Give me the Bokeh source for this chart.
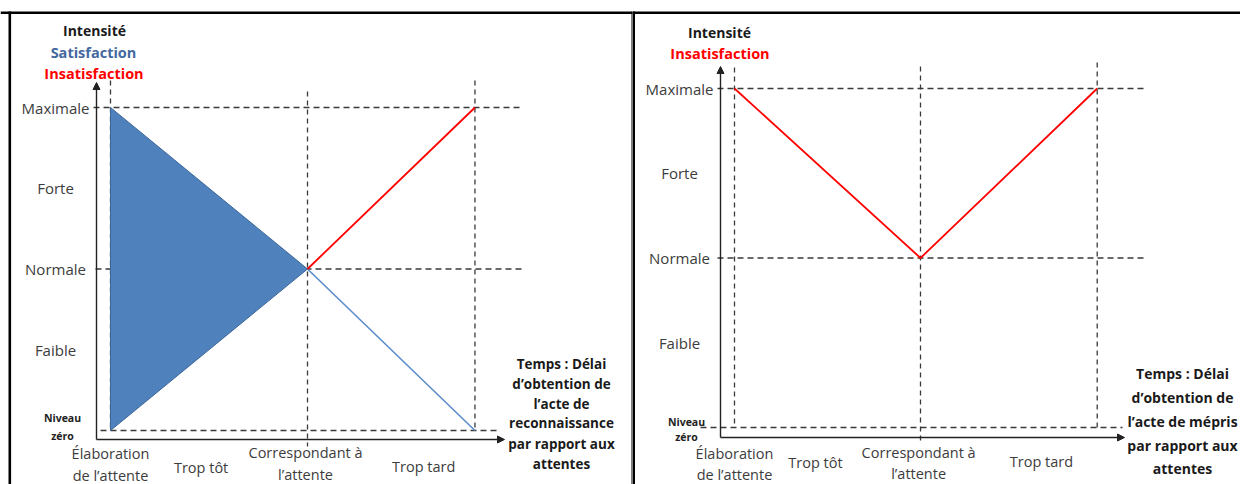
from bokeh.plotting import figure
from bokeh.layouts import row
from bokeh.models import Range1d, Arrow, NormalHead
from bokeh.core.properties import value
from bokeh.embed import file_html
from bokeh.resources import INLINE

# ---------------- data ----------------
levels = ["Niveau\nzéro", "Faible", "Normale", "Forte", "Maximale"]
level_values = [0, 1, 2, 3, 4]

moments = ["Élaboration\nde l’attente", "Trop tôt", "Correspondant à\nl’attente", "Trop tard"]
left_moment_pos = [0, 0.92, 1.98, 3.18]
right_moment_pos = [0, 0.87, 1.98, 3.30]

left_events = [0, 2, 3.7]     # Élaboration, Correspondant, fin "Trop tard"
right_events = [0, 2, 3.9]

sat_poly_x = [0, 0, 2]
sat_poly_y = [4, 0, 2]
sat_line_x = [2, 3.7]
sat_line_y = [2, 0]
insat_left_x = [2, 3.7]
insat_left_y = [2, 4]
insat_right_x = [0, 2, 3.9]
insat_right_y = [4, 2, 4]

time_left = "Temps : Délai\nd’obtention de\nl’acte de\nreconnaissance\npar rapport aux\nattentes"
time_right = "Temps : Délai\nd’obtention de\nl’acte de mépris\npar rapport aux\nattentes"

FONT = value("Open Sans")
LABEL = "#3c3c3c"
DASH = "#3a3a3a"
BLUE = "#4F81BD"
RED = "#FF0000"
H = 484


def make_panel(width, left_img, ox, uxp, oy, uyp):
    x0 = (left_img - ox) / uxp
    x1 = (left_img + width - ox) / uxp
    y_top = oy / uyp
    y_bot = (oy - H) / uyp
    p = figure(width=width, height=H, x_range=Range1d(x0, x1), y_range=Range1d(y_bot, y_top),
               output_backend="svg", toolbar_location=None, min_border=0,
               x_axis_location=None, y_axis_location=None)
    p.grid.visible = False
    p.outline_line_color = None
    p.background_fill_color = "white"
    p.border_fill_color = "white"
    X = lambda px: (px - ox) / uxp
    Y = lambda py: (oy - py) / uyp
    return p, X, Y


def txt(p, x, y, t, size, color=LABEL, bold=False, align="center"):
    p.text(x=[x], y=[y], text=[t], text_font=FONT, text_font_size=size,
           text_font_style="bold" if bold else "normal", text_color=color,
           text_align=align, text_baseline="middle")


def lines(p, x, ys, t, size, **kw):
    for line, y in zip(t.split("\n"), ys):
        txt(p, x, y, line, size, **kw)


def axes(p, X, Y, xa, ya_bottom, ya_top, xa_end):
    head = dict(size=7, fill_color="#222222", line_color="#222222")
    p.add_layout(Arrow(end=NormalHead(**head), x_start=X(xa), y_start=Y(ya_bottom),
                       x_end=X(xa), y_end=Y(ya_top), line_width=1.4, line_color="#222222"))
    p.add_layout(Arrow(end=NormalHead(**head), x_start=X(xa), y_start=Y(ya_bottom),
                       x_end=X(xa_end), y_end=Y(ya_bottom), line_width=1.4, line_color="#222222"))


# ---------------- left panel ----------------
pl, XL, YL = make_panel(632, 0, 110, 98.5, 430, 80.75)

# frame
pl.segment(x0=[XL(0)], y0=[YL(12.2)], x1=[XL(700)], y1=[YL(12.2)], line_color="black", line_width=2.6)
pl.segment(x0=[XL(9.3)], y0=[YL(11)], x1=[XL(9.3)], y1=[YL(500)], line_color="black", line_width=2.6)
pl.segment(x0=[XL(632.75)], y0=[YL(11)], x1=[XL(632.75)], y1=[YL(500)], line_color="black", line_width=3.5)

# dashed guides
pl.segment(x0=[XL(93), XL(95), XL(100)], y0=[level_values[4], level_values[2], level_values[0]],
           x1=[XL(522), XL(525), XL(500)], y1=[level_values[4], level_values[2], level_values[0]],
           line_color=DASH, line_width=1.3, line_dash="6 4")
pl.segment(x0=left_events, y0=[YL(80), YL(91), YL(80)],
           x1=left_events, y1=[level_values[0], YL(446), level_values[0]],
           line_color=DASH, line_width=1.3, line_dash="5 4")

# marks
pl.patch(sat_poly_x, sat_poly_y, fill_color=BLUE, line_color="#3D679A", line_width=1)
pl.line(sat_line_x, sat_line_y, line_color="#5B8CCB", line_width=1.6)
pl.line(insat_left_x, insat_left_y, line_color=RED, line_width=1.8)

axes(pl, XL, YL, 96, 439, 82, 504)

# y labels
for lab, v in zip(levels[1:], level_values[1:]):
    txt(pl, XL(55), v, lab, "15px")
lines(pl, XL(62), [YL(417), YL(435)], levels[0], "10.5px", color="#222222", bold=True)

# x labels
x_lines_left = [[YL(453), YL(475)], [YL(467)], [YL(452), YL(474)], [YL(466)]]
for lab, xp, ys in zip(moments, left_moment_pos, x_lines_left):
    lines(pl, xp, ys, lab, "14.5px")

lines(pl, XL(561), [YL(v) for v in (363, 383, 403, 422, 443, 463)], time_left, "13.5px",
      color="#1a1a1a", bold=True)

# titles
txt(pl, XL(94), YL(30), "Intensité", "14px", color="#1a1a1a", bold=True)
txt(pl, XL(93), YL(52), "Satisfaction", "14.5px", color="#44689F", bold=True)
txt(pl, XL(93.5), YL(73), "Insatisfaction", "14.5px", color=RED, bold=True)

# ---------------- right panel ----------------
pr, XR, YR = make_panel(608, 632, 734, 93, 427, 84.75)

pr.segment(x0=[XR(600)], y0=[YR(12.2)], x1=[XR(1300)], y1=[YR(12.2)], line_color="black", line_width=2.6)
pr.segment(x0=[XR(632.75)], y0=[YR(11)], x1=[XR(632.75)], y1=[YR(500)], line_color="black", line_width=3.5)

pr.segment(x0=[XR(717), XR(717), XR(700)], y0=[level_values[4], level_values[2], level_values[0]],
           x1=[XR(1147), XR(1147), XR(1122)], y1=[level_values[4], level_values[2], level_values[0]],
           line_color=DASH, line_width=1.3, line_dash="6 4")
pr.segment(x0=right_events, y0=[YR(67), YR(66), YR(62)],
           x1=right_events, y1=[level_values[0], YR(443), level_values[0]],
           line_color=DASH, line_width=1.3, line_dash="5 4")

pr.line(insat_right_x, insat_right_y, line_color=RED, line_width=1.8)

axes(pr, XR, YR, 720, 437, 66, 1124)

for lab, v in zip(levels[1:], level_values[1:]):
    txt(pr, XR(679), v, lab, "15px")
lines(pr, XR(686), [YR(421), YR(436)], levels[0], "10.5px", color="#222222", bold=True)

x_lines_right = [[YR(453), YR(474)], [YR(462)], [YR(452), YR(473)], [YR(461)]]
for lab, xp, ys in zip(moments, right_moment_pos, x_lines_right):
    lines(pr, xp, ys, lab, "14.5px")

lines(pr, XR(1182), [YR(v) for v in (373, 397, 421, 445, 468)], time_right, "14px",
      color="#1a1a1a", bold=True)

txt(pr, XR(719), YR(32), "Intensité", "14px", color="#1a1a1a", bold=True)
txt(pr, XR(719.5), YR(53), "Insatisfaction", "14.5px", color=RED, bold=True)

layout = row(pl, pr, spacing=0)
open("out.html", "w").write(file_html(layout, INLINE))
